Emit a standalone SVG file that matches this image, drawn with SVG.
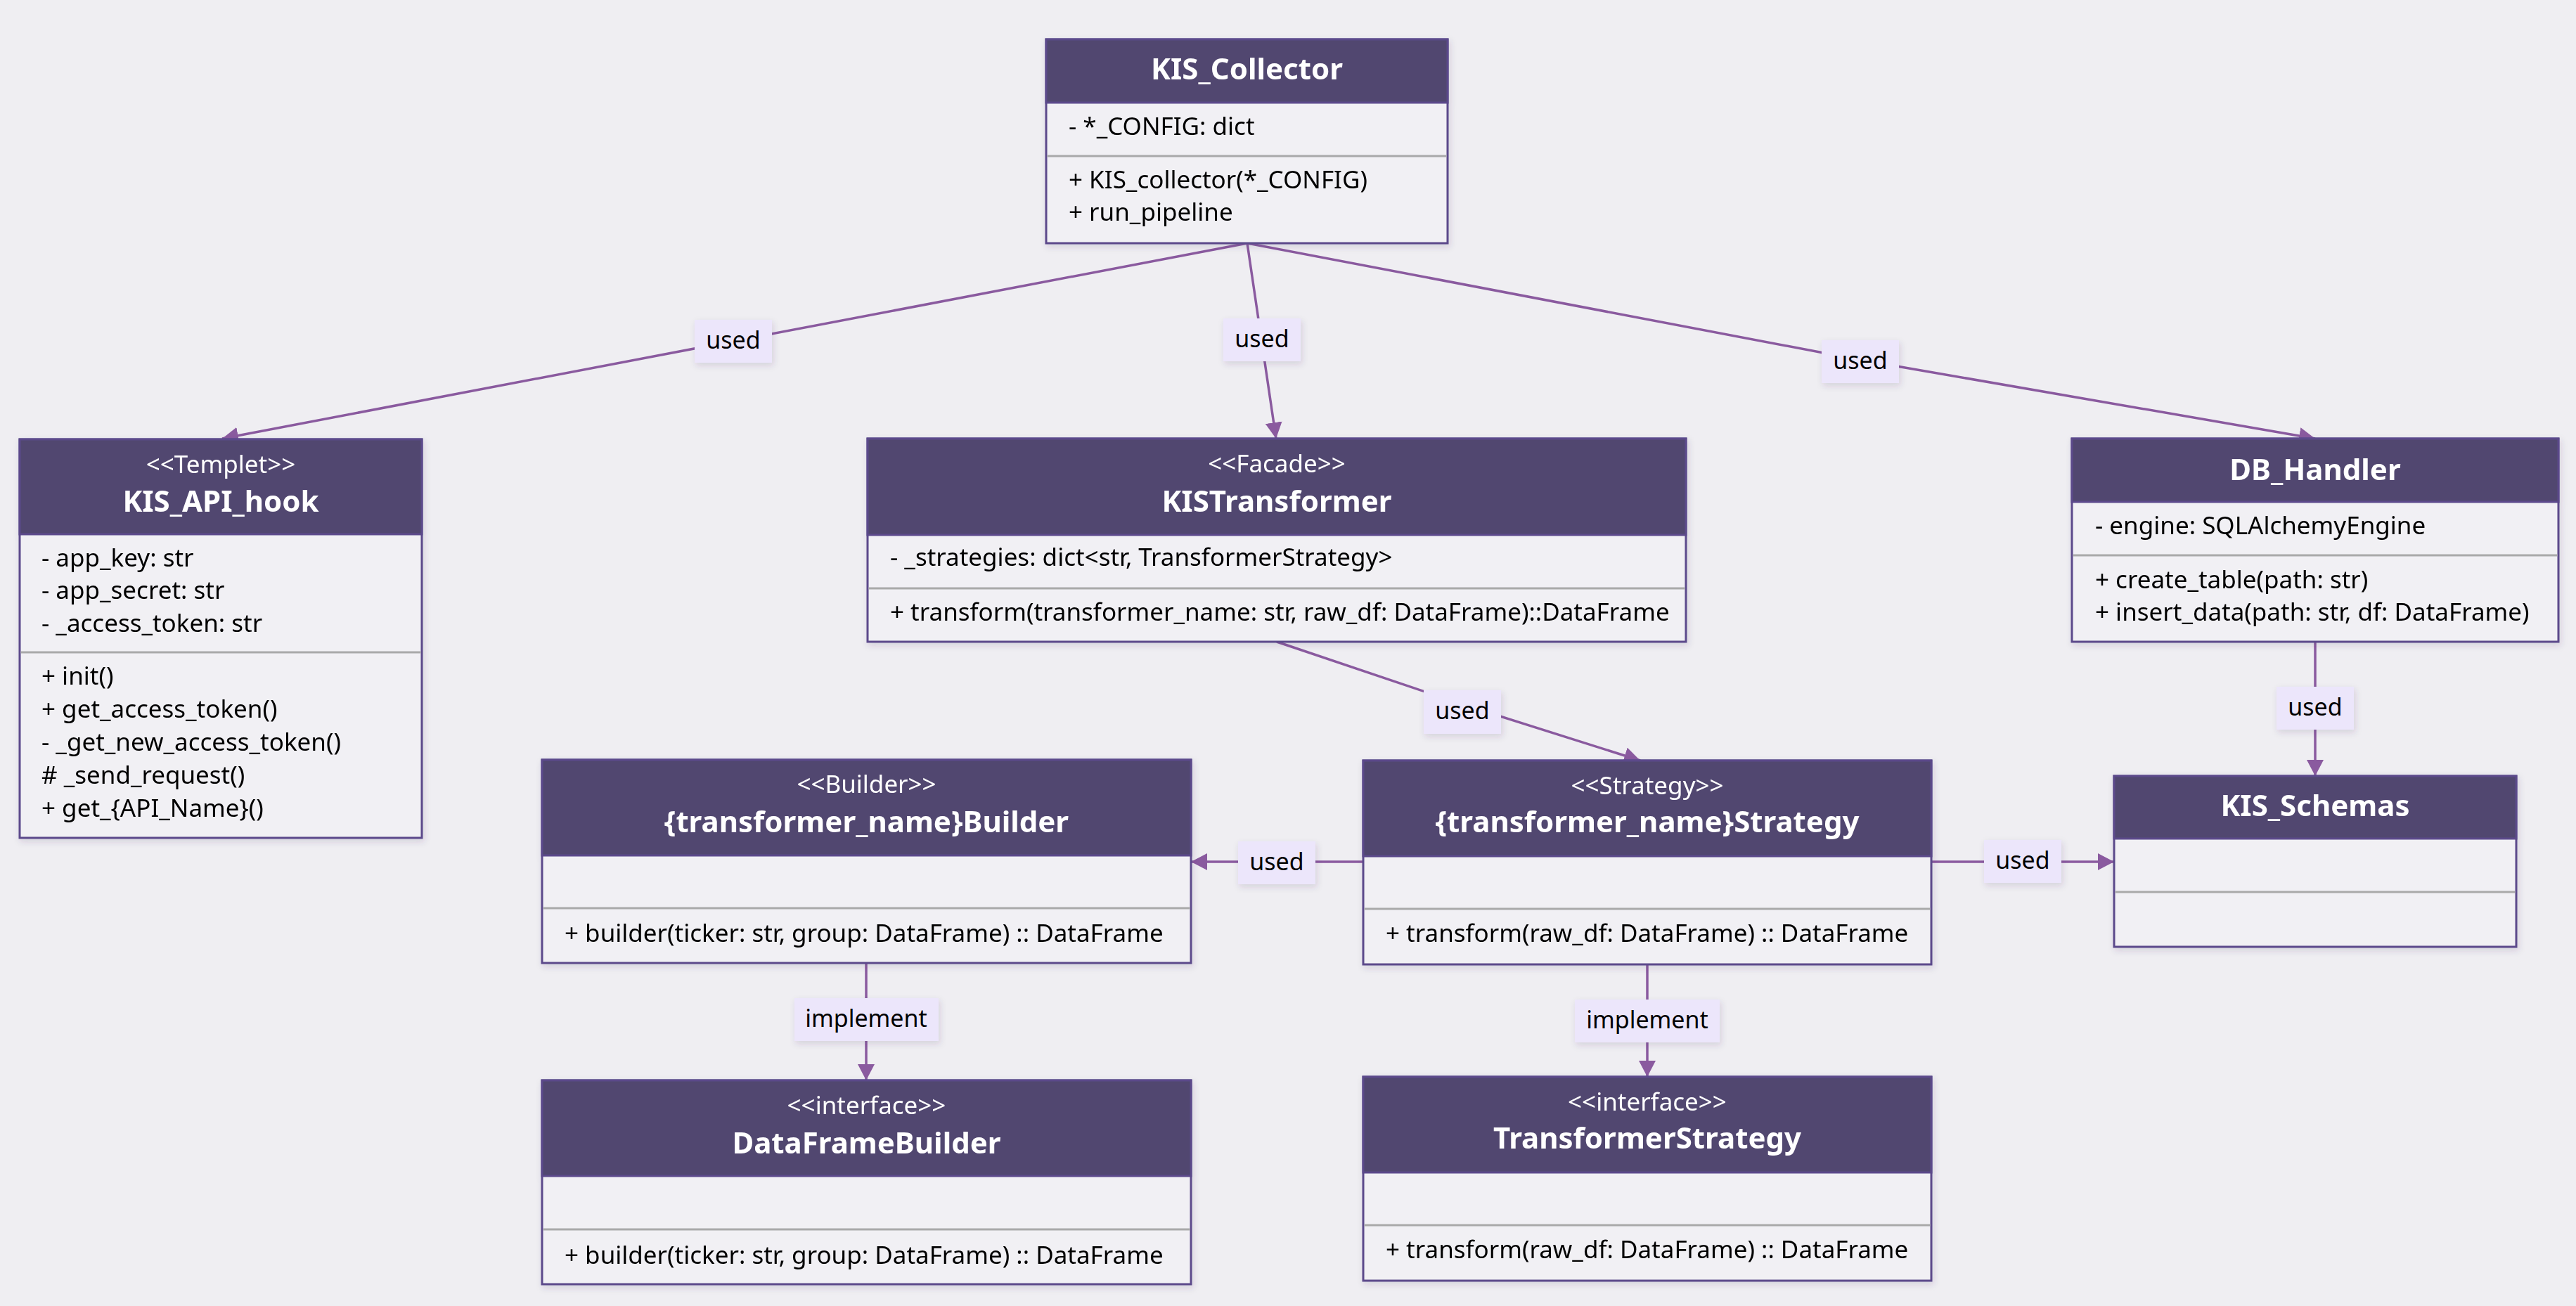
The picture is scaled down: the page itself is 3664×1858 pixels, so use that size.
<svg xmlns="http://www.w3.org/2000/svg" width="3664" height="1858" viewBox="0 0 3664 1858">
<style>
.body{fill:#f1f0f4;stroke:#5b4a8b;stroke-width:3}
.head{fill:#51466f;stroke:#5b4a8b;stroke-width:3}
.div{stroke:#a9a9a9;stroke-width:3}
.t{font-family:"Noto Sans","Liberation Sans",sans-serif;font-weight:bold;font-size:42px;fill:#ffffff;text-anchor:middle}
.st{font-family:"Noto Sans","Liberation Sans",sans-serif;font-size:35px;fill:#ffffff;text-anchor:middle}
.m{font-family:"Noto Sans","Liberation Sans",sans-serif;font-size:35px;fill:#000000}
.edge{fill:none;stroke:#8a5a9f;stroke-width:3.5}
.lbl{fill:#ece6fb}
.lt{font-family:"Noto Sans","Liberation Sans",sans-serif;font-size:34px;fill:#000000;text-anchor:middle}
</style>
<defs>
<marker id="arrow" markerUnits="userSpaceOnUse" markerWidth="24" markerHeight="24" refX="23" refY="12" orient="auto">
<path d="M0,0 L23,12 L0,24 z" fill="#8a5a9f"/>
</marker>
<filter id="sh" x="-10%" y="-10%" width="120%" height="130%">
<feDropShadow dx="2" dy="4" stdDeviation="5" flood-color="#3a2a5a" flood-opacity="0.15"/>
</filter>
</defs>
<rect x="0" y="0" width="3664" height="1858" fill="#efeef2"/>

<g id="connectors">
<path class="edge" d="M1774,346 L316,624" marker-end="url(#arrow)"/>
<path class="edge" d="M1774,346 L1815,624" marker-end="url(#arrow)"/>
<path class="edge" d="M1774,346 L2646,512 L3293,624" marker-end="url(#arrow)"/>
<path class="edge" d="M1816,913 L2080,1002 L2333,1082" marker-end="url(#arrow)"/>
<path class="edge" d="M1939,1226 L1694,1226" marker-end="url(#arrow)"/>
<path class="edge" d="M2747,1226 L3007,1226" marker-end="url(#arrow)"/>
<path class="edge" d="M3293,913 L3293,1104" marker-end="url(#arrow)"/>
<path class="edge" d="M1232,1370 L1232,1537" marker-end="url(#arrow)"/>
<path class="edge" d="M2343,1372 L2343,1532" marker-end="url(#arrow)"/>
<g filter="url(#sh)">
<rect class="lbl" x="988" y="455" width="110" height="61"/>
<rect class="lbl" x="1740" y="453" width="110" height="61"/>
<rect class="lbl" x="2591" y="484" width="110" height="61"/>
<rect class="lbl" x="2025" y="982" width="110" height="62"/>
<rect class="lbl" x="1761" y="1197" width="110" height="61"/>
<rect class="lbl" x="2822" y="1195" width="110" height="61"/>
<rect class="lbl" x="3238" y="977" width="110" height="61"/>
<rect class="lbl" x="1130" y="1420" width="205" height="61"/>
<rect class="lbl" x="2240" y="1422" width="206" height="61"/>
</g>
<text class="lt" x="1043" y="496">used</text>
<text class="lt" x="1795" y="494">used</text>
<text class="lt" x="2646" y="525">used</text>
<text class="lt" x="2080" y="1023">used</text>
<text class="lt" x="1816" y="1238">used</text>
<text class="lt" x="2877" y="1236">used</text>
<text class="lt" x="3293" y="1018">used</text>
<text class="lt" x="1232" y="1461">implement</text>
<text class="lt" x="2343" y="1463">implement</text>
</g>

<g id="KIS_Collector" filter="url(#sh)">
<rect class="body" x="1488" y="56" width="571" height="290"/>
<rect class="head" x="1488" y="56" width="571" height="90"/>
<line class="div" x1="1489.5" y1="222" x2="2057.5" y2="222"/>
<text class="t" x="1773.5" y="113">KIS_Collector</text>
<text class="m" x="1520" y="192">- *_CONFIG: dict</text>
<text class="m" x="1520" y="268">+ KIS_collector(*_CONFIG)</text>
<text class="m" x="1520" y="314">+ run_pipeline</text>
</g>

<g id="KIS_API_hook" filter="url(#sh)">
<rect class="body" x="28" y="625" width="572" height="567"/>
<rect class="head" x="28" y="625" width="572" height="135"/>
<line class="div" x1="29.5" y1="928" x2="598.5" y2="928"/>
<text class="st" x="314" y="673">&lt;&lt;Templet&gt;&gt;</text>
<text class="t" x="314" y="728">KIS_API_hook</text>
<text class="m" x="59" y="806">- app_key: str</text>
<text class="m" x="59" y="852">- app_secret: str</text>
<text class="m" x="59" y="899">- _access_token: str</text>
<text class="m" x="59" y="974">+ init()</text>
<text class="m" x="59" y="1021">+ get_access_token()</text>
<text class="m" x="59" y="1068">- _get_new_access_token()</text>
<text class="m" x="59" y="1115"># _send_request()</text>
<text class="m" x="59" y="1162">+ get_{API_Name}()</text>
</g>

<g id="KISTransformer" filter="url(#sh)">
<rect class="body" x="1234" y="624" width="1164" height="289"/>
<rect class="head" x="1234" y="624" width="1164" height="137"/>
<line class="div" x1="1235.5" y1="837" x2="2396.5" y2="837"/>
<text class="st" x="1816" y="672">&lt;&lt;Facade&gt;&gt;</text>
<text class="t" x="1816" y="728">KISTransformer</text>
<text class="m" x="1266" y="805">- _strategies: dict&lt;str, TransformerStrategy&gt;</text>
<text class="m" x="1266" y="883">+ transform(transformer_name: str, raw_df: DataFrame)::DataFrame</text>
</g>

<g id="DB_Handler" filter="url(#sh)">
<rect class="body" x="2947" y="624" width="692" height="289"/>
<rect class="head" x="2947" y="624" width="692" height="90"/>
<line class="div" x1="2948.5" y1="790" x2="3637.5" y2="790"/>
<text class="t" x="3293" y="683">DB_Handler</text>
<text class="m" x="2980" y="760">- engine: SQLAlchemyEngine</text>
<text class="m" x="2980" y="837">+ create_table(path: str)</text>
<text class="m" x="2980" y="883">+ insert_data(path: str, df: DataFrame)</text>
</g>

<g id="TransformerNameBuilder" filter="url(#sh)">
<rect class="body" x="771" y="1081" width="923" height="289"/>
<rect class="head" x="771" y="1081" width="923" height="136"/>
<line class="div" x1="772.5" y1="1292" x2="1692.5" y2="1292"/>
<text class="st" x="1232.5" y="1128">&lt;&lt;Builder&gt;&gt;</text>
<text class="t" x="1232.5" y="1184">{transformer_name}Builder</text>
<text class="m" x="803" y="1340">+ builder(ticker: str, group: DataFrame) :: DataFrame</text>
</g>

<g id="TransformerNameStrategy" filter="url(#sh)">
<rect class="body" x="1939" y="1082" width="808" height="290"/>
<rect class="head" x="1939" y="1082" width="808" height="136"/>
<line class="div" x1="1940.5" y1="1293" x2="2745.5" y2="1293"/>
<text class="st" x="2343" y="1130">&lt;&lt;Strategy&gt;&gt;</text>
<text class="t" x="2343" y="1184">{transformer_name}Strategy</text>
<text class="m" x="1971" y="1340">+ transform(raw_df: DataFrame) :: DataFrame</text>
</g>

<g id="KIS_Schemas" filter="url(#sh)">
<rect class="body" x="3007" y="1104" width="572" height="243"/>
<rect class="head" x="3007" y="1104" width="572" height="89"/>
<line class="div" x1="3008.5" y1="1269" x2="3577.5" y2="1269"/>
<text class="t" x="3293" y="1161">KIS_Schemas</text>
</g>

<g id="DataFrameBuilder" filter="url(#sh)">
<rect class="body" x="771" y="1537" width="923" height="290"/>
<rect class="head" x="771" y="1537" width="923" height="136"/>
<line class="div" x1="772.5" y1="1749" x2="1692.5" y2="1749"/>
<text class="st" x="1232.5" y="1585">&lt;&lt;interface&gt;&gt;</text>
<text class="t" x="1232.5" y="1641">DataFrameBuilder</text>
<text class="m" x="803" y="1798">+ builder(ticker: str, group: DataFrame) :: DataFrame</text>
</g>

<g id="TransformerStrategy" filter="url(#sh)">
<rect class="body" x="1939" y="1532" width="808" height="290"/>
<rect class="head" x="1939" y="1532" width="808" height="136"/>
<line class="div" x1="1940.5" y1="1743" x2="2745.5" y2="1743"/>
<text class="st" x="2343" y="1580">&lt;&lt;interface&gt;&gt;</text>
<text class="t" x="2343" y="1634">TransformerStrategy</text>
<text class="m" x="1971" y="1790">+ transform(raw_df: DataFrame) :: DataFrame</text>
</g>
</svg>
